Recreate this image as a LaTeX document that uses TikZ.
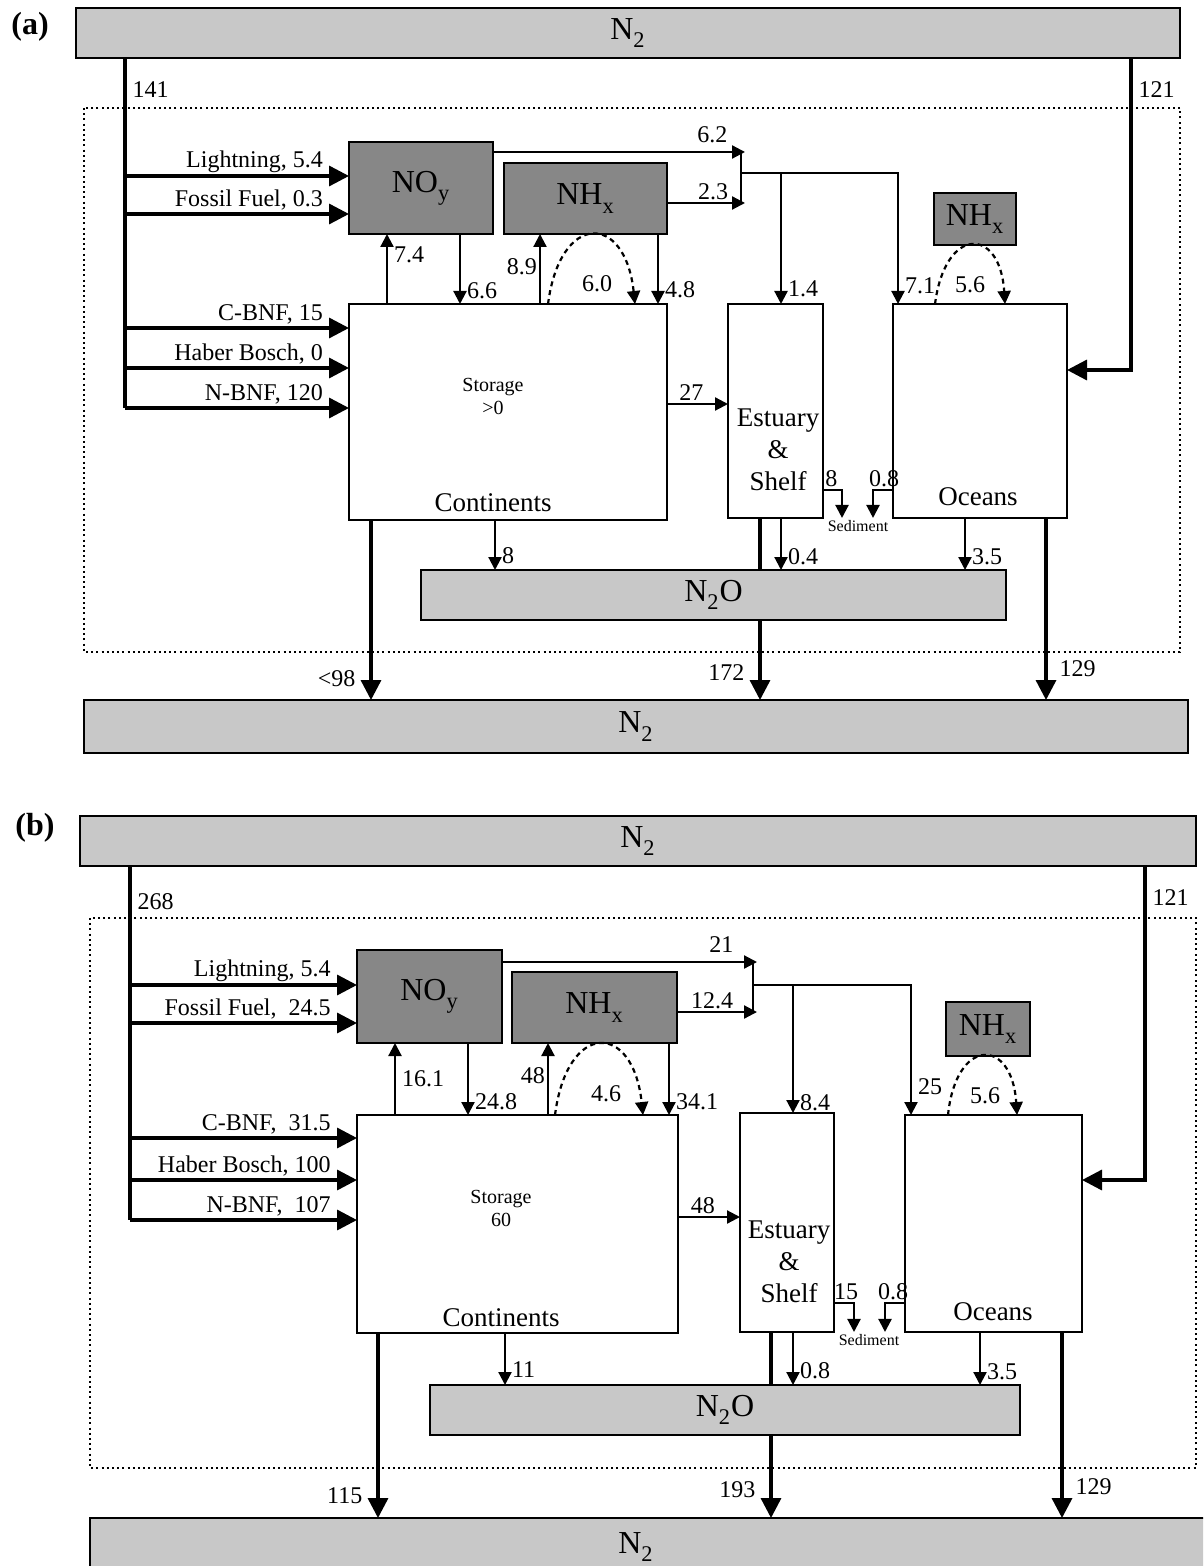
\documentclass[tikz,border=0pt]{standalone}
\usepackage{fontspec}
\setmainfont{Liberation Serif}
\usetikzlibrary{arrows.meta}
\definecolor{BarGray}{HTML}{C8C8C8}
\definecolor{PoolGray}{HTML}{878787}
\newcommand{\lsub}[1]{\textsubscript{\raisebox{-0.3ex}{#1}}}

\begin{document}
\begin{tikzpicture}[x=0.5pt,y=-0.5pt,
bar/.style={draw,line width=1.2pt,fill=BarGray,inner sep=0pt,outer sep=0pt,font=\fontsize{16}{18}\selectfont},
pool/.style={draw,line width=1.2pt,fill=PoolGray,inner sep=0pt,outer sep=0pt,font=\fontsize{16}{18}\selectfont},
res/.style={draw,line width=1.2pt,fill=white,inner sep=0pt,outer sep=0pt},
boxlbl/.style={font=\fontsize{13.5}{16}\selectfont,align=center,inner sep=0pt},
store/.style={font=\fontsize{10}{11.5}\selectfont,align=center,inner sep=0pt},
sedlbl/.style={font=\fontsize{8}{9}\selectfont,inner sep=1pt},
tag/.style={font=\fontsize{16}{18}\selectfont\bfseries},
lbl/.style={font=\fontsize{12}{14}\selectfont,inner sep=1pt},
zone/.style={line width=1pt,dash pattern=on 1pt off 1.6pt},
trunk/.style={line width=1.7pt},
feed/.style={line width=1.7pt,-{Triangle[length=10pt,width=10pt]}},
flux/.style={line width=1.1pt,-{Triangle[length=6.5pt,width=6.5pt]}},
loop/.style={flux,dash pattern=on 2.5pt off 2pt}]
\useasboundingbox (0,0) rectangle (1203,1566);
\clip (0,0) rectangle (1203,1566);

% ---------- panel (a)
\node[tag] (tagA) at (30,27) {(a)};
\node[bar,minimum width=552pt,minimum height=25pt] (topA) at (628,33) {N\lsub{2}};
\draw[zone] (84,108) rectangle (1180,652);
\node[pool,minimum width=72pt,minimum height=46pt] (noyA) at (421,188) {NO\lsub{y}};
\node[pool,minimum width=81.5pt,minimum height=35.5pt] (nhxA) at (585.5,198.5) {NH\lsub{x}};
\node[pool,minimum width=41pt,minimum height=26pt] (nhxoA) at (975,219) {NH\lsub{x}};
\node[res,minimum width=159pt,minimum height=108pt] (contA) at (508,412) {};
\node[res,minimum width=47.5pt,minimum height=107pt] (estA) at (775.5,411) {};
\node[res,minimum width=87pt,minimum height=107pt] (oceanA) at (980,411) {};
\node[bar,minimum width=292.5pt,minimum height=25pt] (ntwoA) at (713.5,595) {N\lsub{2}O};
\node[bar,minimum width=552pt,minimum height=26.5pt] (botA) at (636,726.5) {N\lsub{2}};
\node[store] (storA) at (493,396) {Storage\\>0};
\node[boxlbl] (contnA) at (493,503) {Continents};
\node[boxlbl] (estnA) at (778,450) {Estuary\\\&\\Shelf};
\node[boxlbl] (oceannA) at (978,497) {Oceans};
\node[sedlbl] (sedA) at (858,526) {Sediment};

% inputs from the atmosphere
\coordinate (trunkA) at (125,408);
\draw[trunk] (topA.south -| trunkA) -- node[lbl,pos=0.09,right=2pt]{141} (trunkA);
\foreach \yy/\txt in {176/{Lightning, 5.4},214/{Fossil Fuel, 0.3}}
  \draw[feed] (trunkA |- 0,\yy) -- (noyA.west |- 0,\yy) node[lbl,pos=0.9,above left]{\txt};
\foreach \yy/\txt in {328/{C-BNF, 15},368/{Haber Bosch, 0},408/{N-BNF, 120}}
  \draw[feed] (trunkA |- 0,\yy) -- (contA.west |- 0,\yy) node[lbl,pos=0.9,above left]{\txt};
\coordinate (sideA) at (1131,370);
\draw[feed] (topA.south -| sideA) -- node[lbl,pos=0.1,right=2pt]{121} (sideA) -- (oceanA.east |- sideA);

% exchange with the continents
\draw[flux] (contA.north -| 387,0) -- (noyA.south -| 387,0) node[lbl,pos=0.7,right=2pt]{7.4};
\draw[flux] (noyA.south -| 460,0) -- (contA.north -| 460,0) node[lbl,pos=0.81,right=2pt]{6.6};
\draw[flux] (contA.north -| 540,0) -- (nhxA.south -| 540,0) node[lbl,pos=0.54,left]{8.9};
\draw[loop] (contA.north -| 548,0) .. controls (560,212) and (625,212) .. (contA.north -| 635,0);
\node[lbl] (sixA) at (597,284) {6.0};
\draw[flux] (nhxA.south -| 658,0) -- (contA.north -| 658,0) node[lbl,pos=0.8,right=2pt]{4.8};

% deposition to estuary and ocean
\coordinate (jupA) at (741,152);
\coordinate (jdnA) at (741,203);
\coordinate (jmidA) at (741,173);
\draw[flux] (noyA.east |- jupA) -- ([xshift=2pt]jupA) node[lbl,pos=0.87,above,yshift=3pt]{6.2};
\draw[flux] (nhxA.east |- jdnA) -- ([xshift=2pt]jdnA) node[lbl,pos=0.59,above]{2.3};
\draw[line width=1.1pt] (jupA) -- (jdnA);
\draw[flux] (jmidA) -| (oceanA.north -| 898,0) node[lbl,pos=0.93,right=2pt]{7.1};
\draw[flux] (jmidA -| 781,0) -- (estA.north -| 781,0) node[lbl,pos=0.88,right=2pt]{1.4};
\draw[loop] (oceanA.north -| 935,0) .. controls (945,226) and (1000,226) .. (oceanA.north -| 1005,0);
\node[lbl] (fivesixA) at (970,285) {5.6};

% lateral flows and burial
\draw[flux] (contA.east |- 0,404) -- (estA.west |- 0,404) node[lbl,pos=0.4,above]{27};
\draw[flux] (estA.east |- 0,490) -| (sedA.north -| 842,0) node[lbl,pos=0.22,above]{8};
\draw[flux] (oceanA.west |- 0,490) -| (sedA.north -| 873,0) node[lbl,pos=0.22,above]{0.8};

% losses
\draw[flux] (contA.south -| 495,0) -- (ntwoA.north -| 495,0) node[lbl,pos=0.72,right=2pt]{8};
\draw[trunk] (estA.south -| 760,0) -- (ntwoA.north -| 760,0);
\draw[flux] (estA.south -| 781,0) -- (ntwoA.north -| 781,0) node[lbl,pos=0.75,right=2pt]{0.4};
\draw[flux] (oceanA.south -| 965,0) -- (ntwoA.north -| 965,0) node[lbl,pos=0.75,right=2pt]{3.5};
\draw[feed] (contA.south -| 371,0) -- (botA.north -| 371,0) node[lbl,pos=0.88,left=6pt]{<98};
\draw[feed] (ntwoA.south -| 760,0) -- (botA.north -| 760,0) node[lbl,pos=0.66,left=6pt]{172};
\draw[feed] (oceanA.south -| 1046,0) -- (botA.north -| 1046,0) node[lbl,pos=0.83,right=5pt]{129};

% ---------- panel (b)
\node[tag] (tagB) at (35,828) {(b)};
\node[bar,minimum width=558pt,minimum height=25pt] (topB) at (638,841) {N\lsub{2}};
\draw[zone] (90,918) rectangle (1196,1468);
\node[pool,minimum width=72.5pt,minimum height=46.5pt] (noyB) at (429.5,996.5) {NO\lsub{y}};
\node[pool,minimum width=82.5pt,minimum height=35.5pt] (nhxB) at (594.5,1007.5) {NH\lsub{x}};
\node[pool,minimum width=42pt,minimum height=27pt] (nhxoB) at (988,1029) {NH\lsub{x}};
\node[res,minimum width=160.5pt,minimum height=109pt] (contB) at (517.5,1224) {};
\node[res,minimum width=47pt,minimum height=109.5pt] (estB) at (787,1222.5) {};
\node[res,minimum width=88.5pt,minimum height=108.5pt] (oceanB) at (993.5,1223.5) {};
\node[bar,minimum width=295pt,minimum height=25pt] (ntwoB) at (725,1410) {N\lsub{2}O};
\node[bar,minimum width=562pt,minimum height=31pt] (botB) at (652,1549) {};
\node[bar,draw=none,fill=none] (botnB) at (636,1547) {N\lsub{2}};
\node[store] (storB) at (501,1208) {Storage\\60};
\node[boxlbl] (contnB) at (501,1318) {Continents};
\node[boxlbl] (estnB) at (789,1262) {Estuary\\\&\\Shelf};
\node[boxlbl] (oceannB) at (993,1312) {Oceans};
\node[sedlbl] (sedB) at (869,1340) {Sediment};

% inputs from the atmosphere
\coordinate (trunkB) at (130,1220);
\draw[trunk] (topB.south -| trunkB) -- node[lbl,pos=0.1,right=2pt]{268} (trunkB);
\foreach \yy/\txt in {985/{Lightning, 5.4},1023/{Fossil Fuel,\ \ 24.5}}
  \draw[feed] (trunkB |- 0,\yy) -- (noyB.west |- 0,\yy) node[lbl,pos=0.9,above left]{\txt};
\foreach \yy/\txt in {1138/{C-BNF,\ \ 31.5},1180/{Haber Bosch, 100},1220/{N-BNF,\ \ 107}}
  \draw[feed] (trunkB |- 0,\yy) -- (contB.west |- 0,\yy) node[lbl,pos=0.9,above left]{\txt};
\coordinate (sideB) at (1145,1180);
\draw[feed] (topB.south -| sideB) -- node[lbl,pos=0.1,right=2pt]{121} (sideB) -- (oceanB.east |- sideB);

% exchange with the continents
\draw[flux] (contB.north -| 395,0) -- (noyB.south -| 395,0) node[lbl,pos=0.51,right=2pt]{16.1};
\draw[flux] (noyB.south -| 468,0) -- (contB.north -| 468,0) node[lbl,pos=0.82,right=2pt]{24.8};
\draw[flux] (contB.north -| 548,0) -- (nhxB.south -| 548,0) node[lbl,pos=0.55,left]{48};
\draw[loop] (contB.north -| 555,0) .. controls (567,1021) and (633,1021) .. (contB.north -| 643,0);
\node[lbl] (foursixB) at (606,1094) {4.6};
\draw[flux] (nhxB.south -| 669,0) -- (contB.north -| 669,0) node[lbl,pos=0.82,right=2pt]{34.1};

% deposition to estuary and ocean
\coordinate (jupB) at (753,962);
\coordinate (jdnB) at (753,1012);
\coordinate (jmidB) at (753,985);
\draw[flux] (noyB.east |- jupB) -- ([xshift=2pt]jupB) node[lbl,pos=0.86,above,yshift=3pt]{21};
\draw[flux] (nhxB.east |- jdnB) -- ([xshift=2pt]jdnB) node[lbl,pos=0.44,above]{12.4};
\draw[line width=1.1pt] (jupB) -- (jdnB);
\draw[flux] (jmidB) -| (oceanB.north -| 911,0) node[lbl,pos=0.89,right=2pt]{25};
\draw[flux] (jmidB -| 793,0) -- (estB.north -| 793,0) node[lbl,pos=0.92,right=2pt]{8.4};
\draw[loop] (oceanB.north -| 948,0) .. controls (956,1037) and (1012,1037) .. (oceanB.north -| 1017,0);
\node[lbl] (fivesixB) at (985,1096) {5.6};

% lateral flows and burial
\draw[flux] (contB.east |- 0,1217) -- (estB.west |- 0,1217) node[lbl,pos=0.4,above]{48};
\draw[flux] (estB.east |- 0,1303) -| (sedB.north -| 854,0) node[lbl,pos=0.3,above]{15};
\draw[flux] (oceanB.west |- 0,1303) -| (sedB.north -| 885,0) node[lbl,pos=0.3,above]{0.8};

% losses
\draw[flux] (contB.south -| 505,0) -- (ntwoB.north -| 505,0) node[lbl,pos=0.71,right=2pt]{11};
\draw[trunk] (estB.south -| 771,0) -- (ntwoB.north -| 771,0);
\draw[flux] (estB.south -| 793,0) -- (ntwoB.north -| 793,0) node[lbl,pos=0.73,right=2pt]{0.8};
\draw[flux] (oceanB.south -| 980,0) -- (ntwoB.north -| 980,0) node[lbl,pos=0.75,right=2pt]{3.5};
\draw[feed] (contB.south -| 378,0) -- (botB.north -| 378,0) node[lbl,pos=0.88,left=6pt]{115};
\draw[feed] (ntwoB.south -| 771,0) -- (botB.north -| 771,0) node[lbl,pos=0.66,left=6pt]{193};
\draw[feed] (oceanB.south -| 1062,0) -- (botB.north -| 1062,0) node[lbl,pos=0.83,right=5pt]{129};
\end{tikzpicture}
\end{document}
